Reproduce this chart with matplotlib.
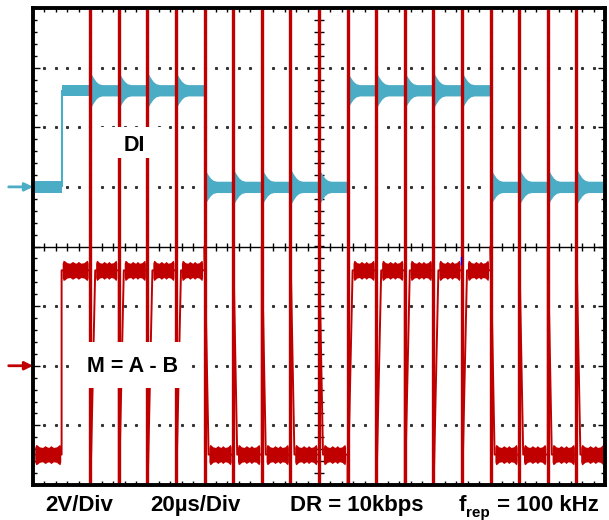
import numpy as np
import matplotlib
matplotlib.use("Agg")
import matplotlib.pyplot as plt
from matplotlib.patches import Rectangle
from matplotlib.ticker import MultipleLocator

plt.rcParams['font.family'] = ['Liberation Sans', 'DejaVu Sans']

# ===== data (x in µs, y in divisions) =====
DI_EDGES   = [10, 60, 110, 160]          # DI toggles here, starts low
TRANSIENTS = [20, 30, 40, 50, 60, 70, 80, 90, 100,
              110, 120, 130, 140, 150, 160, 170, 180, 190]   # f_rep = 100 kHz

DI_LOW, DI_HIGH = 1.00, 2.62
M_LOW, M_HIGH   = -3.49, -0.40
DI_REF, M_REF   = 1.0, -2.0

# ringing burst on DI after each transient
BURST_DT = [0.0, 0.3, 1.0, 2.0, 3.0, 4.2, 10.0]
BURST_HW = [0.29, 0.28, 0.22, 0.15, 0.11, 0.095, 0.095]
DI_HW    = 0.095

# noise band shape on M between transients
M_RIPPLE_FRAC = [0.0, 0.04, 0.10, 0.18, 0.30, 0.40, 0.47, 0.54, 0.62,
                 0.72, 0.84, 0.92, 0.97, 1.0]
M_RIPPLE_HW   = [0.12, 0.17, 0.16, 0.13, 0.12, 0.15, 0.13, 0.12, 0.15,
                 0.12, 0.13, 0.16, 0.17, 0.12]

M_REC_HIGH = 1.75   # µs, recovery from bottom to high after a transient
M_REC_LOW  = 1.4    # µs, recovery from centre to low after a transient

LABELS = ["2V/Div", "20µs/Div", "DR = 10kbps"]
# ===========================

CYAN = "#4bacc6"
RED  = "#c00000"
T_END = 200


def di_state(t):
    return sum(1 for e in DI_EDGES if e <= t) % 2 == 1


fig = plt.figure(figsize=(6.09, 5.20), dpi=100)
ax = fig.add_axes([33 / 609, 35 / 520, 572 / 609, 477 / 520])
ax.set_xlim(0, T_END)
ax.set_ylim(-4, 4)

# frame and ticks
for sp in ax.spines.values():
    sp.set_linewidth(2.8)
    sp.set_zorder(10)
ax.xaxis.set_major_locator(MultipleLocator(20))
ax.xaxis.set_minor_locator(MultipleLocator(4))
ax.yaxis.set_major_locator(MultipleLocator(1))
ax.yaxis.set_minor_locator(MultipleLocator(0.2))
ax.tick_params(which='both', direction='in', top=True, right=True,
               labelbottom=False, labelleft=False, color='k', width=1)
ax.tick_params(which='major', length=5)
ax.tick_params(which='minor', length=3)

# dotted graticule
dot_x = np.arange(4, T_END, 4)
for gy in [-3, -2, -1, 1, 2, 3]:
    ax.plot(dot_x, np.full(len(dot_x), gy), ls='none', marker='s', ms=1.2,
            color='#333333', zorder=1)
dot_y = np.arange(-3.8, 4, 0.2)
for gx in [20, 40, 60, 80, 120, 140, 160, 180]:
    ax.plot(np.full(len(dot_y), gx), dot_y, ls='none', marker='s', ms=1.2,
            color='#333333', zorder=1)

# centre cross with ticks
ax.axhline(0, color='k', lw=1, zorder=2)
ax.axvline(100, color='k', lw=1, zorder=2)
ax.plot(dot_x, np.zeros(len(dot_x)), ls='none', marker='|', ms=6, mew=1,
        color='k', zorder=2)
ax.plot(np.full(len(dot_y), 100), dot_y, ls='none', marker='_', ms=7, mew=1,
        color='k', zorder=2)

bounds = sorted(set([0] + DI_EDGES + TRANSIENTS + [T_END]))

# ---- DI trace ----
for a, b in zip(bounds[:-1], bounds[1:]):
    lev = DI_HIGH if di_state(a) else DI_LOW
    if a in TRANSIENTS:
        xs = np.array([min(a + d, b) for d in BURST_DT])
        hw = np.array(BURST_HW)
    else:
        xs = np.array([max(a, 0.6), b])
        hw = np.array([DI_HW, DI_HW])
    xs = np.minimum(xs, T_END - 0.8)
    ax.fill_between(xs, lev - hw, lev + hw, color=CYAN, lw=0, zorder=3)
ax.vlines(DI_EDGES, DI_LOW, DI_HIGH, color=CYAN, lw=1.5, zorder=3)

# ---- M = A - B trace ----
for a, b in zip(bounds[:-1], bounds[1:]):
    high = di_state(a)
    lev = M_HIGH if high else M_LOW
    if a == 0:
        start = 0.6
    elif a in TRANSIENTS:
        start = a + (1.9 if high else 1.5)
    else:
        start = a + 0.2
    end = b - (0.7 if b in TRANSIENTS else 0.3)
    fr = np.array(M_RIPPLE_FRAC)
    xs = start + fr * (end - start)
    hw = np.array(M_RIPPLE_HW)
    ax.fill_between(xs, lev - hw, lev + hw, color=RED, lw=0, zorder=3)

px, py = [0.6], [M_LOW]
cur = M_LOW
for t in sorted(set(DI_EDGES + TRANSIENTS)):
    high = di_state(t)
    px.append(t); py.append(cur)
    if t in TRANSIENTS:
        if high:
            px += [t, t + M_REC_HIGH]; py += [-4.2, M_HIGH]
        else:
            px += [t, t + M_REC_LOW]; py += [0.0, M_LOW]
    else:
        px.append(t); py.append(M_HIGH if high else M_LOW)
    cur = M_HIGH if high else M_LOW
px.append(T_END - 0.5); py.append(cur)
ax.plot(px, py, color=RED, lw=1.4, zorder=4)

# transient spikes run across the whole screen
ax.vlines(TRANSIENTS, -4.2, 4.2, color=RED, lw=2.4, zorder=5)

# small blue cursor mark
ax.plot([149.7, 149.7], [-0.30, -0.18], color='blue', lw=1, zorder=6)

# channel reference arrows
for yref, col in [(DI_REF, CYAN), (M_REF, RED)]:
    ax.annotate('', xy=(0, yref), xytext=(-8.5, yref), annotation_clip=False,
                arrowprops=dict(arrowstyle='-|>', color=col, lw=2,
                                mutation_scale=12, shrinkA=0, shrinkB=0))

# labels with white boxes
ax.add_patch(Rectangle((23.4, 1.49), 23.0, 0.51, facecolor='white',
                       edgecolor='none', zorder=7))
ax.text(35.3, 1.69, "DI", fontsize=15.5, fontweight='bold', ha='center',
        va='center', zorder=8)
ax.add_patch(Rectangle((14.7, -2.37), 38.3, 0.76, facecolor='white',
                       edgecolor='none', zorder=7))
ax.text(34.9, -2.01, "M = A - B", fontsize=15.5, fontweight='bold',
        ha='center', va='center', zorder=8)

# bottom captions
base = (520 - 511) / 520
for xpx, s in zip([45, 150, 290], LABELS):
    fig.text(xpx / 609, base, s, fontsize=16, fontweight='bold',
             ha='left', va='baseline')
fig.text(459 / 609, base, "f", fontsize=16, fontweight='bold',
         ha='left', va='baseline')
fig.text(466 / 609, (520 - 517) / 520, "rep", fontsize=11, fontweight='bold',
         ha='left', va='baseline')
fig.text(491 / 609, base, " = 100 kHz", fontsize=16, fontweight='bold',
         ha='left', va='baseline')

fig.savefig("out.png", dpi=100)
